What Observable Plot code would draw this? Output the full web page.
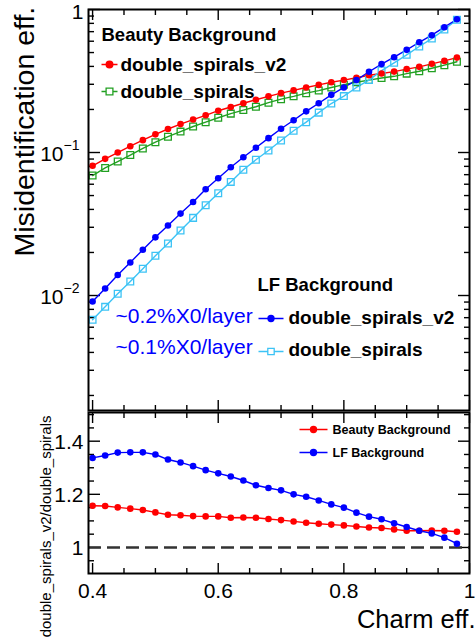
<!DOCTYPE html>
<html><head><meta charset="utf-8">
<script src="https://cdn.jsdelivr.net/npm/d3@7"></script>
<script src="https://cdn.jsdelivr.net/npm/@observablehq/plot@0.6"></script>
<style>
html,body{margin:0;padding:0;background:#fff;}
#root{position:relative;width:475px;height:639px;overflow:hidden;font-family:"Liberation Sans",Arial,Helvetica,sans-serif;}
#top,#bottom{position:absolute;left:0;}
#top{top:0;}
#bottom{top:410px;}
</style></head><body><div id="root"><div id="top"></div><div id="bottom"></div></div>
<script>
// ---- data ----
const charmEff = [0.40,0.42,0.44,0.46,0.48,0.50,0.52,0.54,0.56,0.58,0.60,0.62,0.64,0.66,0.68,0.70,0.72,0.74,0.76,0.78,0.80,0.82,0.84,0.86,0.88,0.90,0.92,0.94,0.96,0.98];
const beautyV2 = [0.0807,0.0903,0.100,0.1107,0.122,0.134,0.146,0.158,0.170,0.182,0.196,0.208,0.221,0.234,0.247,0.260,0.272,0.285,0.297,0.310,0.321,0.333,0.347,0.357,0.368,0.383,0.397,0.417,0.437,0.461];
const beautyDS = [0.069,0.078,0.0865,0.096,0.1068,0.118,0.129,0.140,0.152,0.163,0.175,0.187,0.198,0.209,0.223,0.236,0.247,0.260,0.271,0.285,0.298,0.310,0.321,0.332,0.341,0.356,0.370,0.388,0.408,0.431];
const lfV2 = [0.00908,0.0112,0.0139,0.0170,0.0209,0.0255,0.0309,0.0374,0.0451,0.0553,0.0661,0.0789,0.0927,0.108,0.126,0.1465,0.168,0.194,0.221,0.253,0.285,0.321,0.367,0.415,0.464,0.522,0.590,0.661,0.752,0.855];
const lfDS = [0.00676,0.00833,0.01028,0.01253,0.01538,0.01897,0.0231,0.0285,0.0349,0.0428,0.0519,0.0623,0.0757,0.0889,0.1033,0.1213,0.142,0.163,0.190,0.220,0.248,0.285,0.321,0.374,0.424,0.482,0.551,0.626,0.724,0.847];
const ratioBeauty = [1.157,1.156,1.151,1.146,1.141,1.132,1.123,1.121,1.118,1.117,1.117,1.112,1.113,1.112,1.107,1.103,1.098,1.093,1.089,1.086,1.083,1.079,1.075,1.073,1.068,1.063,1.063,1.064,1.063,1.059];
const ratioLF = [1.337,1.346,1.357,1.358,1.358,1.350,1.331,1.320,1.306,1.291,1.279,1.267,1.252,1.234,1.224,1.215,1.200,1.191,1.177,1.162,1.150,1.131,1.116,1.106,1.091,1.077,1.063,1.053,1.037,1.014];

const xMajorTicks = [0.4,0.6,0.8,1.0];
const xTickLabels = ["0.4","0.6","0.8","1"];
const xMinorTicks = [0.45,0.5,0.55,0.65,0.7,0.75,0.85,0.9,0.95];
const logMajorTicks = [1,0.1,0.01];
const logDecadeTicks = [0.1,0.01];
const logDecadeExp = ["\u22121","\u22122"];
const logMinorTicks = [0.002,0.003,0.004,0.005,0.006,0.007,0.008,0.009,0.02,0.03,0.04,0.05,0.06,0.07,0.08,0.09,0.2,0.3,0.4,0.5,0.6,0.7,0.8,0.9];
const ratioMajorTicks = [1,1.2,1.4];
const ratioTickLabels = ["1","1.2","1.4"];
const ratioMinorTicks = [0.95,1.05,1.1,1.15,1.25,1.3,1.35,1.45,1.5];

const titleTop = "Misidentification eff.";
const titleRatio = "double_spirals_v2/double_spirals";
const titleX = "Charm eff.";
const legBeauty = "Beauty Background";
const legLF = "LF Background";
const seriesV2 = "double_spirals_v2";
const seriesDS = "double_spirals";
const noteV2 = "~0.2%X0/layer";
const noteDS = "~0.1%X0/layer";

// ---- colours ----
const RED = "#ff0000", GREEN = "#22a022", BLUE = "#0000ff", CYAN = "#3cc3f5";
const FONT = "'Liberation Sans', Arial, Helvetica, sans-serif";

const rows = charmEff.map((x, i) => ({x, bV2: beautyV2[i], bDS: beautyDS[i], lV2: lfV2[i], lDS: lfDS[i], rB: ratioBeauty[i], rL: ratioLF[i]}));

// custom legend symbols: line + marker
const lineCircle = (h, r) => ({draw(ctx){ ctx.moveTo(-h,0); ctx.lineTo(h,0); ctx.moveTo(r,0); ctx.arc(0,0,r,0,2*Math.PI); }});
const lineSquare = (h, s) => ({draw(ctx){ ctx.moveTo(-h,0); ctx.lineTo(-s,0); ctx.moveTo(s,0); ctx.lineTo(h,0); ctx.rect(-s,-s,2*s,2*s); }});

function ticksMarks(xMaj, xMin, yMaj, yMin) {
  const sw = 1.4;
  return [
    Plot.axisX({ticks: xMaj, anchor: "bottom", tickSize: -10, fill: "none", label: null, strokeWidth: sw}),
    Plot.axisX({ticks: xMin, anchor: "bottom", tickSize: -5, fill: "none", label: null, strokeWidth: sw}),
    Plot.axisX({ticks: xMaj, anchor: "top", tickSize: -10, fill: "none", label: null, strokeWidth: sw}),
    Plot.axisX({ticks: xMin, anchor: "top", tickSize: -5, fill: "none", label: null, strokeWidth: sw}),
    Plot.axisY({ticks: yMaj, anchor: "left", tickSize: -12, fill: "none", label: null, strokeWidth: sw}),
    Plot.axisY({ticks: yMin, anchor: "left", tickSize: -6, fill: "none", label: null, strokeWidth: sw}),
    Plot.axisY({ticks: yMaj, anchor: "right", tickSize: -12, fill: "none", label: null, strokeWidth: sw}),
    Plot.axisY({ticks: yMin, anchor: "right", tickSize: -6, fill: "none", label: null, strokeWidth: sw})
  ];
}

const topPlot = Plot.plot({
  width: 475, height: 412,
  marginLeft: 88, marginRight: 6, marginTop: 9, marginBottom: 2,
  x: {domain: [0.3935, 1.0]},
  y: {type: "log", domain: [0.00157, 1]},
  style: {fontFamily: FONT, fontSize: "21px", color: "black", background: "transparent", overflow: "visible"},
  marks: [
    ...ticksMarks(xMajorTicks, xMinorTicks, logMajorTicks, logMinorTicks),
    // series
    Plot.line(rows, {x: "x", y: "bDS", stroke: GREEN, strokeWidth: 1.4}),
    Plot.line(rows, {x: "x", y: "bV2", stroke: RED, strokeWidth: 1.4}),
    Plot.line(rows, {x: "x", y: "lDS", stroke: CYAN, strokeWidth: 1.4}),
    Plot.line(rows, {x: "x", y: "lV2", stroke: BLUE, strokeWidth: 1.4}),
    Plot.dot(rows, {x: "x", y: "bDS", symbol: "square", r: 3.8, stroke: GREEN, fill: "none", strokeWidth: 1.3}),
    Plot.dot(rows, {x: "x", y: "lDS", symbol: "square", r: 3.8, stroke: CYAN, fill: "none", strokeWidth: 1.3}),
    Plot.dot(rows, {x: "x", y: "bV2", r: 3.3, fill: RED, stroke: "none"}),
    Plot.dot(rows, {x: "x", y: "lV2", r: 3.3, fill: BLUE, stroke: "none"}),
    // y tick labels
    Plot.text([logMajorTicks[0]], {y: d => d, text: d => String(d), frameAnchor: "left", dx: -5, dy: 3, textAnchor: "end", fontSize: 21}),
    Plot.text(logDecadeTicks, {y: d => d, text: () => "10", frameAnchor: "left", dx: -25, dy: 2, textAnchor: "end", fontSize: 21}),
    Plot.text(logDecadeTicks, {y: d => d, text: (d, i) => logDecadeExp[i], frameAnchor: "left", dx: -25, dy: -7, textAnchor: "start", fontSize: 14}),
    // y title
    Plot.text([titleTop], {text: d => d, frameAnchor: "left", rotate: -90, textAnchor: "start", dx: -64, dy: 46.5, fontSize: 28.5}),
    // beauty legend
    Plot.text([legBeauty], {text: d => d, frameAnchor: "top-left", dx: 13, dy: 31, textAnchor: "start", lineAnchor: "bottom", fontWeight: "bold", fontSize: 18.5}),
    Plot.dot([seriesV2], {frameAnchor: "top-left", dx: 21, dy: 55, symbol: lineCircle(8, 3.3), fill: RED, stroke: RED, strokeWidth: 1.4}),
    Plot.text([seriesV2], {text: d => d, frameAnchor: "top-left", dx: 32, dy: 61, textAnchor: "start", lineAnchor: "bottom", fontWeight: "bold", fontSize: 19}),
    Plot.dot([seriesDS], {frameAnchor: "top-left", dx: 21, dy: 82, symbol: lineSquare(8, 3.4), fill: "none", stroke: GREEN, strokeWidth: 1.3}),
    Plot.text([seriesDS], {text: d => d, frameAnchor: "top-left", dx: 32, dy: 88, textAnchor: "start", lineAnchor: "bottom", fontWeight: "bold", fontSize: 19}),
    // LF legend
    Plot.text([legLF], {text: d => d, frameAnchor: "top-left", dx: 169, dy: 281, textAnchor: "start", lineAnchor: "bottom", fontWeight: "bold", fontSize: 18.5}),
    Plot.dot([seriesV2], {frameAnchor: "top-left", dx: 182.5, dy: 309, symbol: lineCircle(12.5, 3), fill: BLUE, stroke: BLUE, strokeWidth: 1.4}),
    Plot.text([seriesV2], {text: d => d, frameAnchor: "top-left", dx: 200, dy: 314, textAnchor: "start", lineAnchor: "bottom", fontWeight: "bold", fontSize: 19}),
    Plot.dot([seriesDS], {frameAnchor: "top-left", dx: 182.5, dy: 342, symbol: lineSquare(12.5, 3.2), fill: "none", stroke: CYAN, strokeWidth: 1.3}),
    Plot.text([seriesDS], {text: d => d, frameAnchor: "top-left", dx: 200, dy: 346, textAnchor: "start", lineAnchor: "bottom", fontWeight: "bold", fontSize: 19}),
    Plot.text([noteV2], {text: d => d, frameAnchor: "top-left", dx: 27, dy: 313, textAnchor: "start", lineAnchor: "bottom", fontSize: 21, fill: BLUE}),
    Plot.text([noteDS], {text: d => d, frameAnchor: "top-left", dx: 27, dy: 344, textAnchor: "start", lineAnchor: "bottom", fontSize: 21, fill: BLUE}),
    Plot.frame({stroke: "black", strokeWidth: 2})
  ]
});
document.getElementById("top").append(topPlot);

const bottomPlot = Plot.plot({
  width: 475, height: 229,
  marginLeft: 88, marginRight: 6, marginTop: 2, marginBottom: 66,
  x: {domain: [0.3935, 1.0]},
  y: {domain: [0.902, 1.508]},
  style: {fontFamily: FONT, fontSize: "21px", color: "black", background: "transparent", overflow: "visible"},
  marks: [
    ...ticksMarks(xMajorTicks, xMinorTicks, ratioMajorTicks, ratioMinorTicks),
    Plot.ruleY([1], {stroke: "#333", strokeWidth: 2.5, strokeDasharray: "13,6"}),
    Plot.line(rows, {x: "x", y: "rB", stroke: RED, strokeWidth: 1.4}),
    Plot.line(rows, {x: "x", y: "rL", stroke: BLUE, strokeWidth: 1.4}),
    Plot.dot(rows, {x: "x", y: "rB", r: 3.3, fill: RED, stroke: "none"}),
    Plot.dot(rows, {x: "x", y: "rL", r: 3.3, fill: BLUE, stroke: "none"}),
    // tick labels
    Plot.text(ratioMajorTicks, {y: d => d, text: (d, i) => ratioTickLabels[i], frameAnchor: "left", dx: -5, dy: 1, textAnchor: "end", fontSize: 21}),
    Plot.text(xMajorTicks, {x: d => d, text: (d, i) => xTickLabels[i], frameAnchor: "bottom", dy: 18, lineAnchor: "middle", fontSize: 21}),
    // titles
    Plot.text([titleX], {text: d => d, frameAnchor: "bottom-right", dx: 6, dy: 54, textAnchor: "end", lineAnchor: "bottom", fontSize: 25.5}),
    Plot.text([titleRatio], {text: d => d, frameAnchor: "top-left", rotate: -90, textAnchor: "end", dx: -48, dy: 3, fontSize: 15}),
    // legend
    Plot.dot([legBeauty], {frameAnchor: "top-left", dx: 225, dy: 17, symbol: lineCircle(14, 3), fill: RED, stroke: RED, strokeWidth: 1.4}),
    Plot.text([legBeauty], {text: d => d, frameAnchor: "top-left", dx: 244, dy: 21, textAnchor: "start", lineAnchor: "bottom", fontWeight: "bold", fontSize: 12.5}),
    Plot.dot([legLF], {frameAnchor: "top-left", dx: 225, dy: 40, symbol: lineCircle(14, 3), fill: BLUE, stroke: BLUE, strokeWidth: 1.4}),
    Plot.text([legLF], {text: d => d, frameAnchor: "top-left", dx: 244, dy: 44, textAnchor: "start", lineAnchor: "bottom", fontWeight: "bold", fontSize: 12.5}),
    Plot.frame({stroke: "black", strokeWidth: 2})
  ]
});
document.getElementById("bottom").append(bottomPlot);
</script>
</body></html>
